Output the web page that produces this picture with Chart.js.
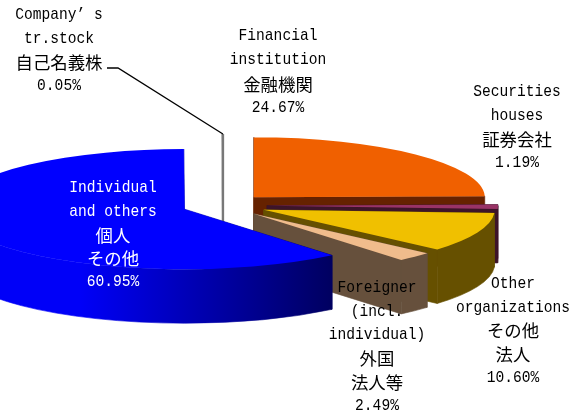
<!DOCTYPE html>
<html>
<head>
<meta charset="utf-8">
<script src="https://cdn.jsdelivr.net/npm/chart.js@4"></script>
<style>
  html, body { margin: 0; padding: 0; background: #fff; }
  canvas { display: block; }
</style>
</head>
<body>
<canvas id="myChart" width="587" height="416"></canvas>
<script>
// drawn back to front, so the sliver comes first and the big blue slice last
const categories = ['Company’s tr.stock', 'Financial institution', 'Securities houses', 'Other organizations', 'Foreigner (incl. individual)', 'Individual and others']
const shares = [0.05, 24.67, 1.19, 10.60, 2.49, 60.95]
const topColors = ['#808080', '#f06000', '#993366', '#f0c000', '#f0bc8c', '#0000ff']
const wallColors = ['#606060', '#662200', '#3d1429', '#665000', '#66503c', '#000080']

const labelLines = [
  ['Company’ s', 'tr.stock', '自己名義株', '0.05%'],
  ['Financial', 'institution', '金融機関', '24.67%'],
  ['Securities', 'houses', '証券会社', '1.19%'],
  ['Other', 'organizations', 'その他', '法人', '10.60%'],
  ['Foreigner', '(incl.', 'individual)', '外国', '法人等', '2.49%'],
  ['Individual', 'and others', '個人', 'その他', '60.95%']
]

// where the label blocks sit: centre x, first line y, line step, colour
const labelPos = [
  [59, 15, 23.6, '#000'],
  [278, 36, 24, '#000'],
  [517, 92, 23.7, '#000'],
  [513, 284, 23.4, '#000'],
  [377, 288, 23.5, '#000'],
  [113, 188, 23.5, '#fff']
]

const SQUASH = 0.26     // flattens the pie
const DEPTH = 54        // height of the walls in px
const CENTER_Y = 205.5  // where the pie centre lands on the page
const explode = [44, 44, 44, 44, 44, 41]

function sliceGeometry(arc, i) {
  const p = arc.getProps(['x', 'y', 'startAngle', 'endAngle', 'outerRadius'], true)
  const mid = (p.startAngle + p.endAngle) / 2
  const dx = Math.cos(mid) * explode[i]
  const dy = Math.sin(mid) * explode[i]
  return { dx, dy, cx: p.x + dx, cy: CENTER_Y + dy * SQUASH, r: p.outerRadius, a0: p.startAngle, a1: p.endAngle }
}

function drawWalls(ctx, g, i) {
  const ry = g.r * SQUASH
  let fill = wallColors[i]
  if (i == 5) {
    fill = ctx.createLinearGradient(80, 0, 332, 0)
    fill.addColorStop(0, '#0000f8')
    fill.addColorStop(1, '#000060')
  }
  ctx.fillStyle = fill
  ctx.strokeStyle = fill
  ctx.lineWidth = 0.6

  // the two cut faces
  ;[g.a0, g.a1].forEach(function (a) {
    const ex = g.cx + Math.cos(a) * g.r
    const ey = g.cy + Math.sin(a) * ry
    ctx.beginPath()
    ctx.moveTo(g.cx, g.cy)
    ctx.lineTo(ex, ey)
    ctx.lineTo(ex, ey + DEPTH)
    ctx.lineTo(g.cx, g.cy + DEPTH)
    ctx.closePath()
    ctx.fill()
    ctx.stroke()
  })

  // outer wall, only the part that faces us
  const from = Math.max(g.a0, 0)
  const to = Math.min(g.a1, Math.PI)
  if (to > from) {
    ctx.beginPath()
    ctx.ellipse(g.cx, g.cy, g.r, ry, 0, from, to)
    ctx.ellipse(g.cx, g.cy + DEPTH, g.r, ry, 0, to, from, true)
    ctx.closePath()
    ctx.fill()
    ctx.stroke()
  }
}

const pie3d = {
  id: 'pie3d',
  beforeDatasetsDraw(chart) {
    const ctx = chart.ctx
    const arcs = chart.getDatasetMeta(0).data
    arcs.forEach(function (arc, i) {
      const g = sliceGeometry(arc, i)
      drawWalls(ctx, g, i)
      ctx.save()
      ctx.translate(g.dx, CENTER_Y + g.dy * SQUASH)
      ctx.scale(1, SQUASH)
      ctx.translate(0, -arc.y)
      arc.draw(ctx)
      ctx.restore()

      if (i == 0) {
        // the sliver is thinner than a pixel, give it the width it has in the picture
        ctx.strokeStyle = '#787878'
        ctx.lineWidth = 2.4
        ctx.beginPath()
        ctx.moveTo(g.cx, g.cy - g.r * SQUASH)
        ctx.lineTo(g.cx, g.cy + DEPTH)
        ctx.stroke()

        // leader line
        ctx.strokeStyle = '#000'
        ctx.lineWidth = 1.3
        ctx.beginPath()
        ctx.moveTo(107, 68)
        ctx.lineTo(118, 68)
        ctx.lineTo(g.cx, g.cy - g.r * SQUASH)
        ctx.stroke()
      }
    })
    return false
  },
  afterDraw(chart) {
    const ctx = chart.ctx
    ctx.textAlign = 'center'
    ctx.textBaseline = 'middle'
    labelLines.forEach(function (lines, i) {
      const pos = labelPos[i]
      ctx.fillStyle = pos[3]
      lines.forEach(function (line, n) {
        const cjk = /[\u3040-\u9fff]/.test(line)
        ctx.save()
        ctx.translate(pos[0], pos[1] + n * pos[2])
        if (cjk) {
          ctx.font = '17.4px "Noto Sans CJK JP"'
        } else {
          // the latin in the picture is a tall narrow half-width face
          ctx.font = '16.6px "Liberation Mono"'
          ctx.scale(0.88, 1)
        }
        ctx.fillText(line, 0, 0)
        ctx.restore()
      })
    })
  }
}

new Chart(document.getElementById('myChart').getContext('2d'), {
  type: 'pie',
  data: {
    labels: categories,
    datasets: [{
      data: shares,
      backgroundColor: topColors,
      borderWidth: 0,
      radius: 231,
      clip: false
    }]
  },
  plugins: [pie3d],
  options: {
    responsive: false,
    animation: false,
    rotation: -0.18,
    layout: { padding: { right: 141 } },
    plugins: { legend: { display: false }, tooltip: { enabled: false } }
  }
})
</script>
</body>
</html>
